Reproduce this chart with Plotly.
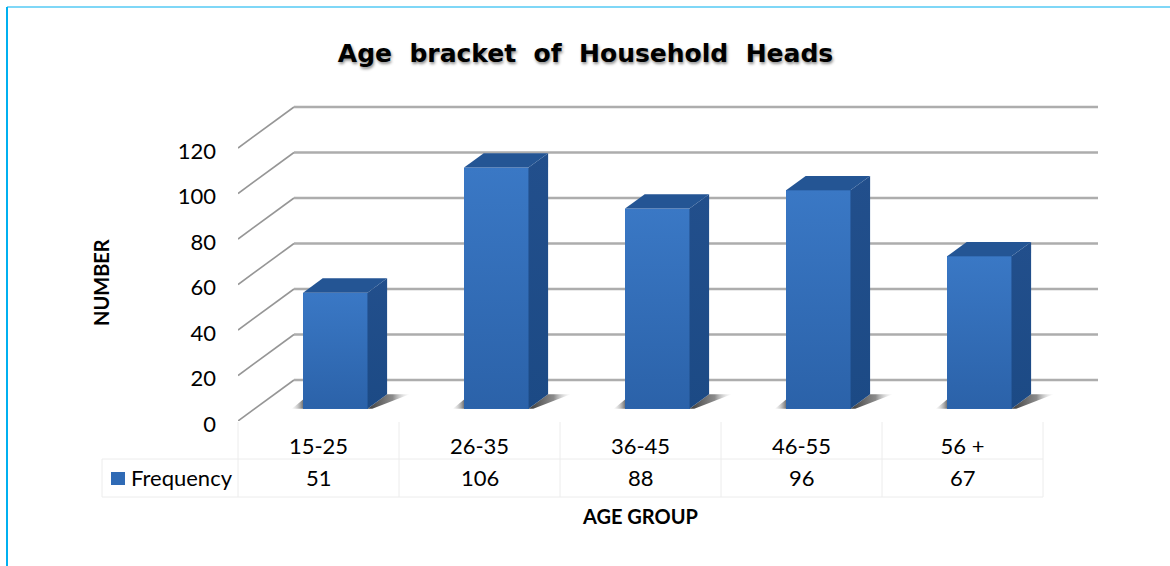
import plotly.graph_objects as go

categories = ['15-25', '26-35', '36-45', '46-55', '56 +']
frequency = [51, 106, 88, 96, 67]
y_ticks = [0, 20, 40, 60, 80, 100, 120]
series_name = 'Frequency'
chart_title = 'Age  bracket  of  Household  Heads'

# pixel box of the plot area
W, H = 1170, 566
L, T, R, B = 238, 100, 1110, 421
CAT_PX = 161
Y_PX = 2.275

x_max = (R - L) / CAT_PX
y_max = (B - T) / Y_PX


def px_x(p):
    return (p - L) / (R - L)


def px_y(p):
    return 1 - (p - T) / (B - T)


# fake 3d: full floor depth is 56px right and 41px up
DEPTH_X = 56 / CAT_PX
DEPTH_Y = 41 / Y_PX
BAR_W = 0.4
BAR_T0 = 0.30
BAR_DT = 0.35

fig = go.Figure()

# gridlines, back wall plus the diagonal on the side wall
shapes = []
for v in y_ticks:
    shapes.append(dict(type='line', layer='below', xref='x', yref='y',
                       x0=0, y0=v, x1=DEPTH_X, y1=v + DEPTH_Y,
                       line=dict(color='#969696', width=1.6)))
    shapes.append(dict(type='line', layer='below', xref='x', yref='y',
                       x0=DEPTH_X, y0=v + DEPTH_Y, x1=(1098 - L) / CAT_PX, y1=v + DEPTH_Y,
                       line=dict(color='#adadad', width=2.4)))

# data table under the plot
table_line = dict(color='#ececec', width=1)
n = len(categories)
for i in range(n + 1):
    xp = px_x(L + i * CAT_PX)
    shapes.append(dict(type='line', xref='paper', yref='paper', x0=xp, x1=xp,
                       y0=px_y(422), y1=px_y(497), line=table_line))
shapes.append(dict(type='line', xref='paper', yref='paper', x0=px_x(102), x1=px_x(102),
                   y0=px_y(459), y1=px_y(497), line=table_line))
for yp in [459, 497]:
    shapes.append(dict(type='line', xref='paper', yref='paper', x0=px_x(102), x1=px_x(L + n * CAT_PX),
                       y0=px_y(yp), y1=px_y(yp), line=table_line))

# legend key in the table
shapes.append(dict(type='rect', xref='paper', yref='paper', x0=px_x(111), x1=px_x(125),
                   y0=px_y(485), y1=px_y(472), fillcolor='#2f6ab5', line=dict(width=0)))

# blue frame of the slide
frame = dict(color='#00b0f0', width=2)
shapes.append(dict(type='line', xref='paper', yref='paper', x0=px_x(7), x1=px_x(7),
                   y0=px_y(7), y1=px_y(566), line=frame))
shapes.append(dict(type='line', xref='paper', yref='paper', x0=px_x(7), x1=px_x(1170),
                   y0=px_y(7), y1=px_y(7), line=dict(color='#00b0f0', width=1.2)))

front_dx = BAR_T0 * DEPTH_X
front_dy = BAR_T0 * DEPTH_Y
back_dx = BAR_DT * DEPTH_X
back_dy = BAR_DT * DEPTH_Y
centers = [i + 0.5 for i in range(n)]

fig.add_trace(go.Bar(x=[c + front_dx for c in centers], y=frequency, base=[front_dy] * n,
                     width=BAR_W, name=series_name, showlegend=False,
                     marker=dict(color='#2f6ab5', line=dict(width=0))))

for c, v in zip(centers, frequency):
    x0 = c + front_dx - BAR_W / 2
    x1 = c + front_dx + BAR_W / 2
    y0 = front_dy
    y1 = front_dy + v

    # floor shadows
    fig.add_trace(go.Scatter(x=[x1, x1 + back_dx, x1 + back_dx + 0.14, x1 + 0.03], y=[y0, y0 + back_dy, y0 + back_dy, y0],
                             mode='none', fill='toself', showlegend=False, hoverinfo='skip',
                             fillgradient=dict(type='horizontal',
                                               colorscale=[[0, 'rgba(50,50,50,0.95)'], [0.6, 'rgba(90,90,90,0.7)'],
                                                           [1, 'rgba(220,220,220,0.1)']])))
    fig.add_trace(go.Scatter(x=[x0 - 0.07, x0, x0], y=[y0, y0 + 4, y0],
                             mode='none', fill='toself', showlegend=False, hoverinfo='skip',
                             fillgradient=dict(type='horizontal',
                                               colorscale=[[0, 'rgba(200,200,200,0.1)'], [1, 'rgba(80,80,80,0.8)']])))
    # front face gradient
    fig.add_trace(go.Scatter(x=[x0, x1, x1, x0], y=[y0, y0, y1, y1],
                             mode='none', fill='toself', showlegend=False, hoverinfo='skip',
                             fillgradient=dict(type='vertical',
                                               colorscale=[[0, '#2b62a9'], [1, '#3a78c5']])))
    # side face
    fig.add_trace(go.Scatter(x=[x1, x1 + back_dx, x1 + back_dx, x1], y=[y0, y0 + back_dy, y1 + back_dy, y1],
                             mode='none', fill='toself', showlegend=False, hoverinfo='skip',
                             fillgradient=dict(type='vertical',
                                               colorscale=[[0, '#1c4a85'], [1, '#224f8c']])))
    # top face
    fig.add_trace(go.Scatter(x=[x0, x1, x1 + back_dx, x0 + back_dx], y=[y1, y1, y1 + back_dy, y1 + back_dy],
                             mode='none', fill='toself', showlegend=False, hoverinfo='skip',
                             fillcolor='#245594'))

annotations = []
for c, v in zip(centers, frequency):
    annotations.append(dict(x=c, y=px_y(477), xref='x', yref='paper', text=str(v), showarrow=False,
                            xanchor='center', yanchor='middle', font=dict(size=22, color='#000000')))
annotations.append(dict(x=px_x(129), y=px_y(477), xref='paper', yref='paper', text=series_name, showarrow=False,
                        xanchor='left', yanchor='middle', font=dict(size=22, color='#000000')))
annotations.append(dict(x=px_x(640), y=px_y(516), xref='paper', yref='paper', text='<b>AGE GROUP</b>',
                        xanchor='center', yanchor='middle', showarrow=False, font=dict(size=20, color='#000000')))
annotations.append(dict(x=px_x(101), y=px_y(283), xref='paper', yref='paper', text='<b>NUMBER</b>',
                        xanchor='center', yanchor='middle', textangle=-90, showarrow=False,
                        font=dict(size=20, color='#000000')))

fig.update_layout(
    width=W, height=H,
    autosize=False,
    margin=dict(l=L, r=W - R, t=T, b=H - B, pad=0),
    paper_bgcolor='white',
    plot_bgcolor='white',
    showlegend=False,
    font=dict(family='Lato', color='#000000', size=22),
    title=dict(text='<b>' + chart_title + '</b>', x=585.5 / W, xanchor='center', y=1 - 53 / H, yanchor='middle',
               font=dict(family='DejaVu Sans', size=25, color='#000000', shadow='1px 2px 3px rgba(0,0,0,0.45)')),
    xaxis=dict(range=[0, x_max], tickmode='array', tickvals=centers, ticktext=categories,
               showgrid=False, zeroline=False, showline=False, ticks='', ticklabelstandoff=10,
               tickfont=dict(size=22)),
    yaxis=dict(range=[0, y_max], tickmode='array', tickvals=y_ticks, showgrid=False, zeroline=False,
               showline=False, ticks='', ticklabelstandoff=21, ticklabelshift=3, tickfont=dict(size=22)),
    shapes=shapes,
    annotations=annotations,
    bargap=0,
)

# page margin would push the figure 8px off the corner
fig.write_html('out.html', config={'displayModeBar': False}, post_script="document.body.style.margin='0';")
